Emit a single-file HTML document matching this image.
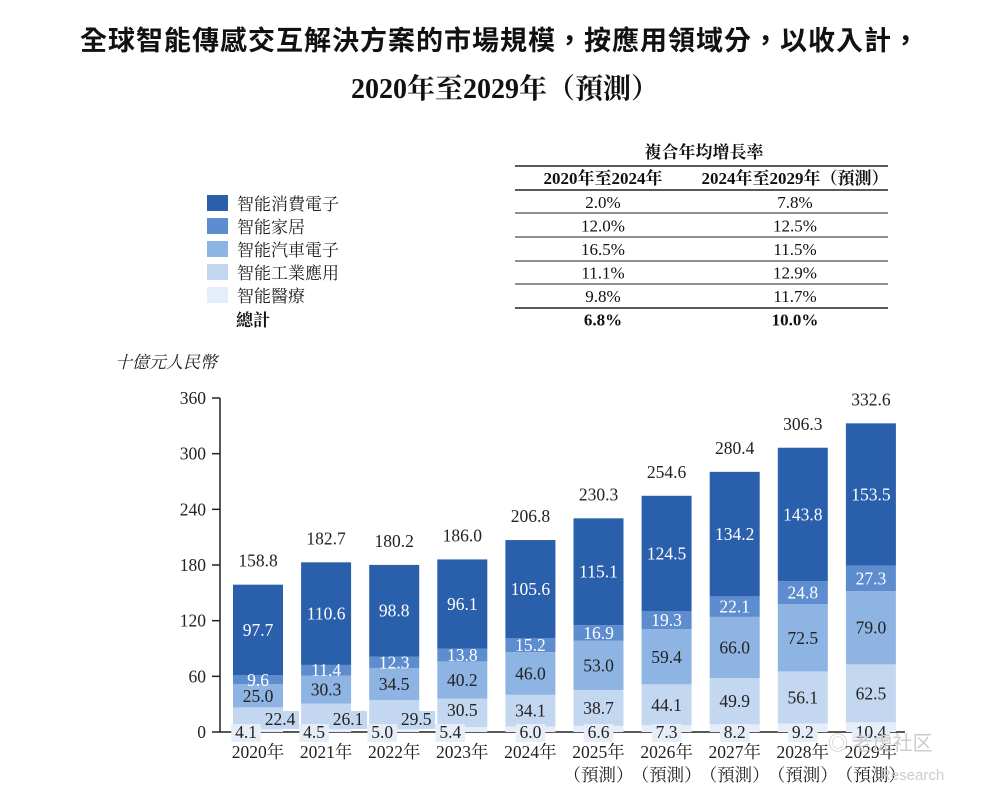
<!DOCTYPE html>
<html><head><meta charset="utf-8"><style>
body{margin:0;background:#fff;}
svg text{font-family:"Liberation Serif","Noto Serif CJK SC","Noto Sans CJK TC",serif;}
</style></head><body>
<svg id="chart" width="981" height="797" xmlns="http://www.w3.org/2000/svg">
<text x="500" y="50" text-anchor="middle" font-size="27" font-weight="bold" fill="#111" style="font-family:'Noto Sans CJK TC',sans-serif;letter-spacing:1px">全球智能傳感交互解決方案的市場規模，按應用領域分，以收入計，</text>
<text x="505" y="98" text-anchor="middle" font-size="28" font-weight="bold" fill="#111">2020年至2029年（預測）</text>
<g id="legend"></g>
<g id="table"></g>
<text x="115" y="368" font-size="17" font-style="italic" fill="#222">十億元人民幣</text>
<g id="axes"></g>
<g id="bars"></g>
<text x="828" y="750" font-size="20" fill="#ccc" style="font-family:'Noto Sans CJK SC',sans-serif">◎ 老虎社区</text>
<text x="880" y="780" font-size="15" fill="#ccc" style="font-family:'Liberation Sans',sans-serif">Research</text>
</svg>
<script>
const years=["2020年","2021年","2022年","2023年","2024年","2025年","2026年","2027年","2028年","2029年"];
const forecast=[false,false,false,false,false,true,true,true,true,true];
const medical=[4.1,4.5,5.0,5.4,6.0,6.6,7.3,8.2,9.2,10.4];
const industrial=[22.4,26.1,29.5,30.5,34.1,38.7,44.1,49.9,56.1,62.5];
const auto=[25.0,30.3,34.5,40.2,46.0,53.0,59.4,66.0,72.5,79.0];
const home=[9.6,11.4,12.3,13.8,15.2,16.9,19.3,22.1,24.8,27.3];
const consumer=[97.7,110.6,98.8,96.1,105.6,115.1,124.5,134.2,143.8,153.5];
const totals=[158.8,182.7,180.2,186.0,206.8,230.3,254.6,280.4,306.3,332.6];
const yTicks=[0,60,120,180,240,300,360];
const seriesNames=["智能消費電子","智能家居","智能汽車電子","智能工業應用","智能醫療"];
const cagr1=["2.0%","12.0%","16.5%","11.1%","9.8%","6.8%"];
const cagr2=["7.8%","12.5%","11.5%","12.9%","11.7%","10.0%"];

const colors=["#2a5fac","#5d8ccf","#8db4e2","#c4d7f0","#e4edf8"];
const NS="http://www.w3.org/2000/svg";
function el(tag,attrs,parent,txt){const e=document.createElementNS(NS,tag);for(const k in attrs)e.setAttribute(k,attrs[k]);if(txt!==undefined)e.textContent=txt;parent.appendChild(e);return e;}
const y0=732,y1=398,xL=220;
const yScale=v=>y0-(v/360)*(y0-y1);
const xCenter=i=>258+i*68.1;
const bw=50;
const FS=17.5;

const lg=document.getElementById('legend');
seriesNames.forEach((n,i)=>{
  const y=195+i*23;
  const r=el('rect',{x:207,y:y,width:21,height:16,fill:colors[i]},lg);
  
  
  const t=el('text',{x:237,y:y+15,'font-size':17,fill:'#222'},lg,n);
  
  
});
const tt=el('text',{x:236,y:326,'font-size':17,'font-weight':'bold',fill:'#111'},lg,"總計");



const tb=document.getElementById('table');
el('text',{x:704,y:158,'text-anchor':'middle','font-size':17,'font-weight':'bold',fill:'#111'},tb,"複合年均增長率");
const lineYs=[166,190,213,237,261,284,308];
lineYs.forEach((y,i)=>el('line',{x1:515,x2:888,y1:y,y2:y,stroke:'#222','stroke-width':i==0||i==1||i==6?1.5:1},tb));
el('text',{x:603,y:184,'text-anchor':'middle','font-size':17,'font-weight':'bold',fill:'#111'},tb,"2020年至2024年");
el('text',{x:795,y:184,'text-anchor':'middle','font-size':17,'font-weight':'bold',fill:'#111'},tb,"2024年至2029年（預測）");
cagr1.forEach((v,i)=>{
  const y=208+i*23.5;const b=i==5;
  const a=el('text',{x:603,y:y,'text-anchor':'middle','font-size':17,'font-weight':b?'bold':'normal',fill:'#111'},tb,v);
  
  
  const c=el('text',{x:795,y:y,'text-anchor':'middle','font-size':17,'font-weight':b?'bold':'normal',fill:'#111'},tb,cagr2[i]);
  
  
});

const ax=document.getElementById('axes');
el('line',{x1:xL,x2:xL,y1:y1,y2:y0,stroke:'#222','stroke-width':1.5},ax);
el('line',{x1:xL,x2:905,y1:y0,y2:y0,stroke:'#222','stroke-width':1.5},ax);
yTicks.forEach(v=>{
  const y=yScale(v);
  el('line',{x1:xL-8,x2:xL,y1:y,y2:y,stroke:'#222','stroke-width':1.5},ax);
  const t=el('text',{x:xL-14,y:y+6,'text-anchor':'end','font-size':FS,fill:'#222'},ax,String(v));
  
  
});

const bg=document.getElementById('bars');
const stack=[medical,industrial,auto,home,consumer];
const segColorIdx=[4,3,2,1,0];
years.forEach((yr,i)=>{
  const cx=xCenter(i);
  let base=0;
  const tops=[];
  stack.forEach((s,k)=>{
    const v=s[i];
    const yt=yScale(base+v),yb=yScale(base);
    const r=el('rect',{x:cx-bw/2,y:yt,width:bw,height:yb-yt,fill:colors[segColorIdx[k]]},bg);
    
    
    tops.push([yt,yb]);
    base+=v;
  });
  stack.forEach((s,k)=>{
    const v=s[i].toFixed(1);
    let [yt,yb]=tops[k];
    let x=cx,y=(yt+yb)/2+6,fill=k>=3?'#fff':'#222';
    if(k==0){y=y0+6; if(i<4) x=cx-12;}
    if(k==1&&i<3){x=cx+22;y=y0-7;}
    if(k==1&&i==3){y=(yt+yb)/2+3;}
    if(k<2){
      const w=v.length*8.5+4;
      const br=el('rect',{x:x-w/2,y:y-14,width:w,height:18,fill:colors[segColorIdx[k]]},bg);
      
      
    }
    const t=el('text',{x:x,y:y,'text-anchor':'middle','font-size':FS,fill:fill},bg,v);
    
    
  });
  const tl=el('text',{x:cx,y:yScale(totals[i])-18,'text-anchor':'middle','font-size':FS,fill:'#222'},bg,totals[i].toFixed(1));
  
  
  const xl=el('text',{x:cx,y:758,'text-anchor':'middle','font-size':FS,fill:'#222'},bg,yr);
  
  
  if(forecast[i]){
    const f=el('text',{x:cx,y:781,'text-anchor':'middle','font-size':FS,fill:'#222'},bg,"（預測）");
    
    
  }
});
</script>
</body></html>
